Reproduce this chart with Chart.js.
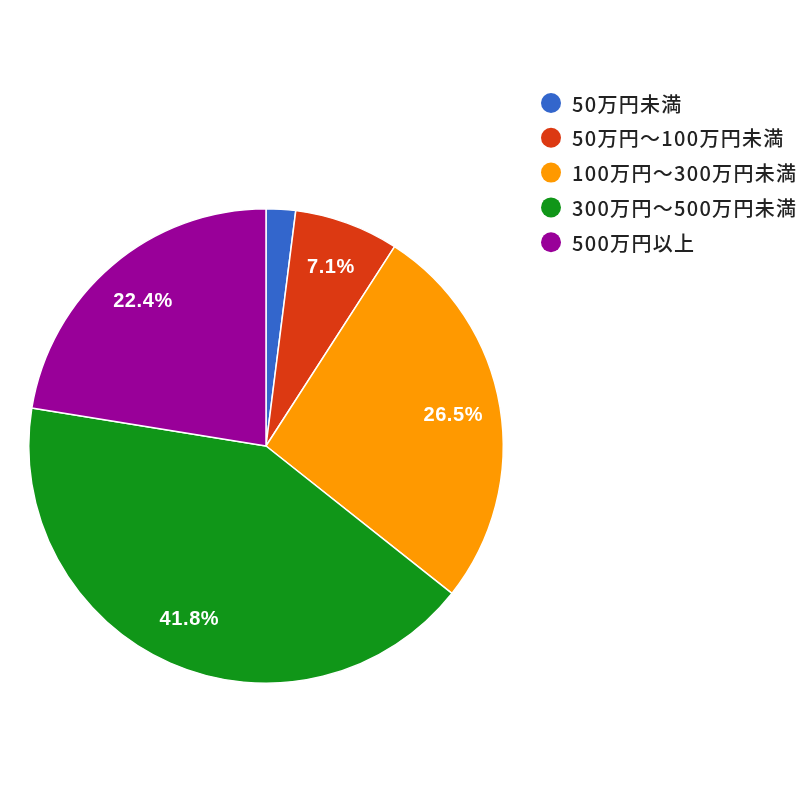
<!DOCTYPE html>
<html>
<head>
<meta charset="utf-8">
<script src="https://cdn.jsdelivr.net/npm/chart.js@4"></script>
<style>
  html, body { margin: 0; padding: 0; background: #fff; }
  #wrap { width: 800px; height: 800px; position: relative; }
</style>
</head>
<body>
<div id="wrap"><canvas id="pie"></canvas></div>
<script>
const CATEGORIES = ['50万円未満', '50万円〜100万円未満', '100万円〜300万円未満', '300万円〜500万円未満', '500万円以上'];
const SHARES = [2.0, 7.1, 26.5, 41.8, 22.4];
const COLORS = ['#3366cc', '#dc3912', '#ff9900', '#109618', '#990099'];

const LEGEND_FONT = '"Noto Sans CJK JP", "Liberation Sans", sans-serif';
const LABEL_FONT = '"Liberation Sans", Arial, sans-serif';

// percent labels inside slices, like google charts does
const sliceLabels = {
  id: 'sliceLabels',
  afterDatasetsDraw(chart) {
    const ctx = chart.ctx;
    const meta = chart.getDatasetMeta(0);
    const data = chart.data.datasets[0].data;
    ctx.save();
    ctx.font = 'bold 20px ' + LABEL_FONT;
    ctx.letterSpacing = '0.6px';
    ctx.fillStyle = '#ffffff';
    ctx.textAlign = 'center';
    ctx.textBaseline = 'middle';
    meta.data.forEach((arc, i) => {
      if (data[i] < 5) return;
      const mid = (arc.startAngle + arc.endAngle) / 2;
      const r = arc.outerRadius * 0.8;
      ctx.fillText(data[i].toFixed(1) + '%', arc.x + Math.cos(mid) * r, arc.y + Math.sin(mid) * r);
    });
    ctx.restore();
  },
};

// legend on the right, drawn by hand so it sits where the original has it
const sideLegend = {
  id: 'sideLegend',
  afterDraw(chart) {
    const ctx = chart.ctx;
    const bg = chart.data.datasets[0].backgroundColor;
    ctx.save();
    ctx.font = '500 20px ' + LEGEND_FONT;
    ctx.letterSpacing = '1.3px';
    ctx.textBaseline = 'middle';
    chart.data.labels.forEach((label, i) => {
      const y = 103 + i * 34.8;
      ctx.beginPath();
      ctx.arc(551, y, 10, 0, Math.PI * 2);
      ctx.fillStyle = bg[i];
      ctx.fill();
      ctx.fillStyle = '#222222';
      ctx.fillText(label, 572, y + 1);
    });
    ctx.restore();
  },
};

new Chart(document.getElementById('pie'), {
  type: 'pie',
  data: {
    labels: CATEGORIES,
    datasets: [{
      data: SHARES,
      backgroundColor: COLORS,
      borderColor: '#ffffff',
      borderWidth: 1.5,
    }],
  },
  options: {
    responsive: true,
    maintainAspectRatio: false,
    animation: false,
    layout: { padding: { left: 28, top: 208, right: 296, bottom: 116 } },
    plugins: {
      legend: { display: false },
      tooltip: { enabled: false },
    },
  },
  plugins: [sliceLabels, sideLegend],
});
</script>
</body>
</html>
